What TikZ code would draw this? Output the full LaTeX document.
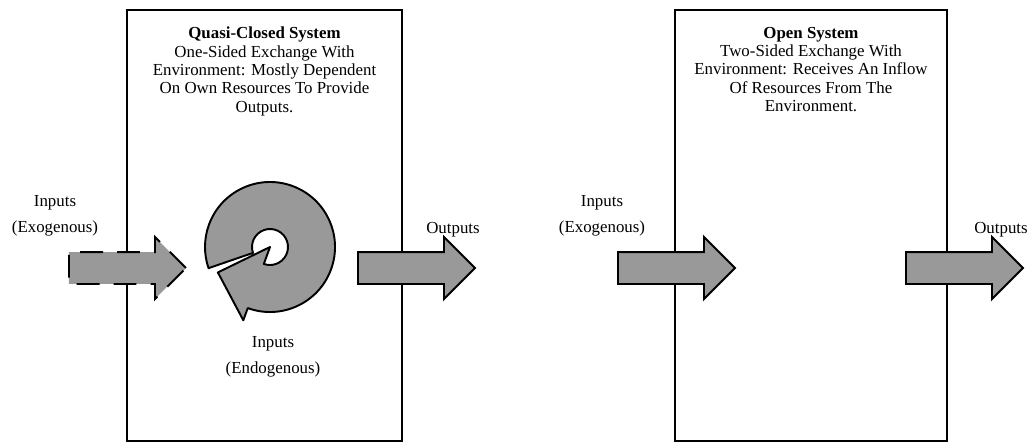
\documentclass[tikz,border=0pt]{standalone}
\usepackage{fontspec}
\setmainfont{Liberation Serif}
\usepackage{xcolor}
\usetikzlibrary{shapes.arrows}

\definecolor{flowgray}{RGB}{153,153,153}

\begin{document}
\begin{tikzpicture}[x=0.02cm, y=-0.02cm,
  sysbox/.style={draw=black, line width=1.3pt, fill=white,
    minimum height=8.62cm, inner sep=0pt},
  header/.style={align=center, inner sep=0pt, anchor=north,
    font=\fontsize{9.6}{10.5}\selectfont},
  tag/.style={align=center, inner sep=0pt,
    font=\fontsize{9.6}{14.5}\selectfont},
  fatarrow/.style={single arrow, draw=black, line width=1.1pt,
    fill=flowgray, inner xsep=0pt, inner ysep=0.3cm,
    single arrow head extend=0.3cm, minimum height=2.34cm,
    anchor=tail, line join=miter},
  ring/.style={draw=black, line width=1.1pt, fill=flowgray,
    line join=round}
]
\useasboundingbox (0,0) rectangle (1031,443);

% the two systems
\node[sysbox, minimum width=5.5cm] (quasi) at (264.5,225.5) {};
\node[sysbox, minimum width=5.44cm] (open) at (811,225.5) {};

\node[header] (quasitext) at (264.5,26.5) {\textbf{Quasi-Closed System}\\
  One-Sided Exchange With\\Environment: Mostly Dependent\\
  On Own Resources To Provide\\Outputs.};
\node[header] (opentext) at (811,26.5) {\textbf{Open System}\\
  Two-Sided Exchange With\\Environment: Receives An Inflow\\
  Of Resources From The\\Environment.};

% flows in and out
\node[fatarrow, dash pattern=on 13pt off 8pt] (exoin) at (68,268) {};
\node[fatarrow] (quasiout) at (357,268) {};
\node[fatarrow] (openin) at (617,268) {};
\node[fatarrow] (openout) at (905,268) {};

% recycling loop inside the quasi-closed system
\coordinate (ringc) at (270,247);
\draw[ring] ([shift={(110:78)}]ringc) -- ([shift={(110:65)}]ringc)
  arc[start angle=110, end angle=-199, radius=65]
  -- ([shift={(161:18)}]ringc)
  arc[start angle=161, end angle=470, radius=18]
  -- (ringc) -- ([shift={(154:58)}]ringc) -- cycle;

\node[tag] (exolabel) at (55,216) {Inputs\\(Exogenous)};
\node[tag] (endolabel) at (273,357) {Inputs\\(Endogenous)};
\node[tag] (openlabel) at (602,216) {Inputs\\(Exogenous)};
\node[tag] (quasiouttag) at (453,230) {Outputs};
\node[tag] (openouttag) at (1001,230) {Outputs};
\end{tikzpicture}
\end{document}
